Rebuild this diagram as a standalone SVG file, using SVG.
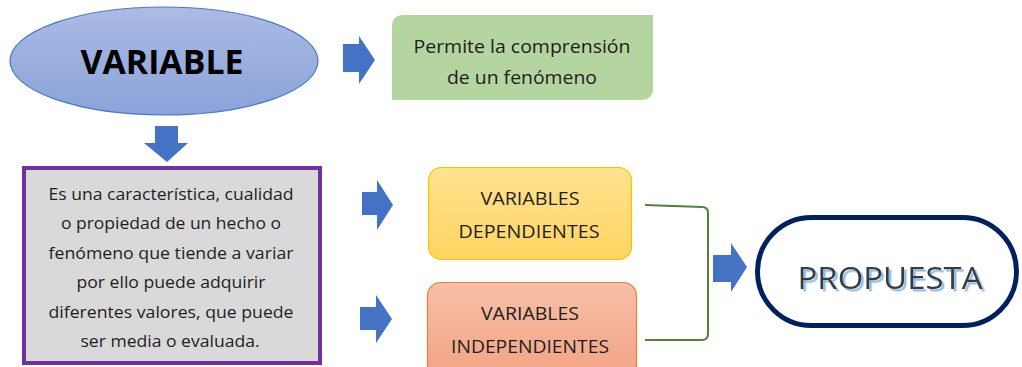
<svg xmlns="http://www.w3.org/2000/svg" width="1022" height="367" viewBox="0 0 1022 367">
<defs>
<linearGradient id="gEll" x1="0" y1="0" x2="0" y2="1"><stop offset="0" stop-color="#abbbe4"/><stop offset="1" stop-color="#8aa3d9"/></linearGradient>
<linearGradient id="gYel" x1="0" y1="0" x2="0" y2="1"><stop offset="0" stop-color="#ffe390"/><stop offset="1" stop-color="#ffd462"/></linearGradient>
<linearGradient id="gOra" x1="0" y1="0" x2="0" y2="1"><stop offset="0" stop-color="#f6c0a8"/><stop offset="1" stop-color="#f3a383"/></linearGradient>
<filter id="shadow" x="-10%" y="-20%" width="130%" height="150%">
<feDropShadow dx="2.5" dy="2.5" stdDeviation="0.4" flood-color="#8ebde8" flood-opacity="1"/>
</filter>
</defs>
<style>
.t{font-family:"Open Sans","Noto Sans","Liberation Sans",sans-serif;fill:#1e1e1e;text-anchor:middle}
.arr{fill:#4472c4}
</style>
<g id="connectors">
<polygon class="arr" points="343,44 359,44 359,36 375,60 359,84 359,72 343,72"/>
<polygon class="arr" points="155,126 178,126 178,143 188,143 167,162 144,143 155,143"/>
<polygon class="arr" points="362,192 377,192 377,180 393,205 377,230 377,215 362,215"/>
<polygon class="arr" points="360,307 376,307 376,295 392,319 376,343 376,330 360,330"/>
<polygon class="arr" points="713,255 731,255 731,243 747,267 731,292 731,282 713,282"/>
<path d="M645,205 L702,207 Q708,207 708,213 L708,334 Q708,340 702,340 L645,340" fill="none" stroke="#548235" stroke-width="2"/>
</g>
<g id="variable">
<ellipse cx="164" cy="61" rx="154" ry="54" fill="url(#gEll)" stroke="#4a78c8" stroke-width="1.2"/>
<text class="t" x="162" y="74" font-size="34" font-weight="bold" textLength="163" lengthAdjust="spacingAndGlyphs" style="fill:#000">VARIABLE</text>
</g>
<g id="comprension">
<path d="M404,15 L653,15 L653,88 Q653,100 641,100 L392,100 L392,27 Q392,15 404,15 Z" fill="#b5d5a0"/>
<text class="t" x="522" y="53" font-size="18" textLength="217" lengthAdjust="spacingAndGlyphs">Permite la comprensión</text>
<text class="t" x="522" y="84" font-size="18" textLength="150" lengthAdjust="spacingAndGlyphs">de un fenómeno</text>
</g>
<g id="definicion">
<rect x="24" y="168" width="296" height="195" fill="#d9d9d9" stroke="#7030a0" stroke-width="4"/>
<g font-size="16">
<text class="t" x="171" y="200" textLength="245" lengthAdjust="spacingAndGlyphs">Es una característica, cualidad</text>
<text class="t" x="171" y="229" textLength="220" lengthAdjust="spacingAndGlyphs">o propiedad de un hecho o</text>
<text class="t" x="171" y="259" textLength="245" lengthAdjust="spacingAndGlyphs">fenómeno que tiende a variar</text>
<text class="t" x="171" y="288" textLength="189" lengthAdjust="spacingAndGlyphs">por ello puede adquirir</text>
<text class="t" x="171" y="318" textLength="245" lengthAdjust="spacingAndGlyphs">diferentes valores, que puede</text>
<text class="t" x="170" y="347" textLength="179" lengthAdjust="spacingAndGlyphs">ser media o evaluada.</text>
</g>
</g>
<g id="dependientes">
<rect x="428.5" y="167.5" width="203" height="92" rx="13" fill="url(#gYel)" stroke="#ffc000" stroke-width="1.2"/>
<text class="t" x="530" y="205" font-size="18" textLength="99" lengthAdjust="spacingAndGlyphs">VARIABLES</text>
<text class="t" x="529" y="238" font-size="18" textLength="141" lengthAdjust="spacingAndGlyphs">DEPENDIENTES</text>
</g>
<g id="independientes">
<rect x="427.5" y="282.5" width="209" height="95" rx="13" fill="url(#gOra)" stroke="#ed7d31" stroke-width="1.2"/>
<text class="t" x="530" y="320" font-size="18" textLength="98" lengthAdjust="spacingAndGlyphs">VARIABLES</text>
<text class="t" x="530" y="353" font-size="18" textLength="158" lengthAdjust="spacingAndGlyphs">INDEPENDIENTES</text>
</g>
<g id="propuesta">
<rect x="757.5" y="217.5" width="259" height="108" rx="54" fill="#fff" stroke="#002060" stroke-width="5"/>
<text x="890" y="289" font-family="'Open Sans','Noto Sans',sans-serif" font-size="31" text-anchor="middle" fill="#3a3a3a" textLength="185" lengthAdjust="spacingAndGlyphs" filter="url(#shadow)">PROPUESTA</text>
</g>
</svg>
